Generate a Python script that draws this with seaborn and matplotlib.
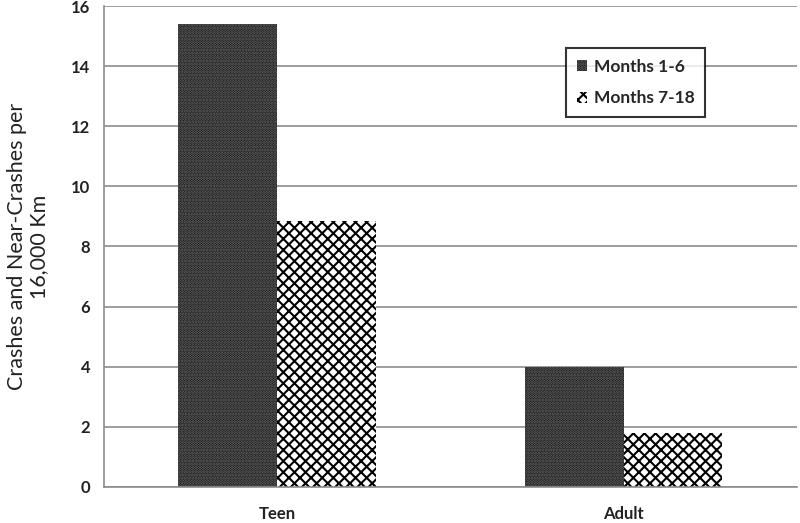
"""Crash rates by driver group and period, bar chart with hatched fills."""
import matplotlib.pyplot as plt
import matplotlib.patches as mpatches
import pandas as pd
import seaborn as sns

groups = ["Teen", "Adult"]
periods = ["Months 1-6", "Months 7-18"]
rates_early = [15.4, 4.0]
rates_late = [8.85, 1.8]

df = pd.DataFrame({
    "group": groups * 2,
    "period": [periods[0]] * 2 + [periods[1]] * 2,
    "rate": rates_early + rates_late,
})

sns.set_style("white")
plt.rcParams["font.family"] = ["Lato", "DejaVu Sans"]
plt.rcParams["hatch.linewidth"] = 1.5

fig = plt.figure(figsize=(8, 5.23), dpi=100)
ax = fig.add_axes([0.13, 0.069, 0.866, 0.9195])

sns.barplot(data=df, x="group", y="rate", hue="period", order=groups,
            hue_order=periods, width=0.57, ax=ax, legend=False)

styles = {
    periods[0]: dict(facecolor="#0a0a0a", edgecolor="#6e6e6e", hatch="......"),
    periods[1]: dict(facecolor="white", edgecolor="black", hatch="xxx"),
}
for cont, p in zip(ax.containers, periods):
    for bar in cont:
        bar.set_facecolor(styles[p]["facecolor"])
        bar.set_edgecolor(styles[p]["edgecolor"])
        bar.set_hatch(styles[p]["hatch"])
        bar.set_linewidth(0)

ax.set_ylim(0, 16)
ax.set_yticks(range(0, 17, 2))
ax.set_xlim(-0.5, 1.5)
ax.yaxis.grid(True, color="#8c8c8c", linewidth=1.2)
ax.set_axisbelow(True)

for side in ["top", "right"]:
    ax.spines[side].set_visible(False)
for side in ["left", "bottom"]:
    ax.spines[side].set_color("#8c8c8c")
    ax.spines[side].set_linewidth(1.2)

ax.set_xticks([-0.5, 0.5, 1.5], minor=True)
ax.tick_params(axis="x", which="minor", length=6, color="#8c8c8c", width=1.2)
ax.tick_params(axis="x", which="major", length=0, pad=14)
ax.tick_params(axis="y", length=6, color="#8c8c8c", width=1.2, pad=4)
for lbl in ax.get_xticklabels() + ax.get_yticklabels():
    lbl.set_fontweight("bold")
    lbl.set_fontsize(12)
    lbl.set_color("#222222")

ax.set_xlabel("")
ax.set_ylabel("Crashes and Near-Crashes per\n16,000 Km", fontsize=15.5,
              color="#222222", labelpad=16, linespacing=1.1)

handles = [mpatches.Patch(facecolor=styles[p]["facecolor"],
                          edgecolor=styles[p]["edgecolor"],
                          hatch=styles[p]["hatch"], linewidth=0, label=p)
           for p in periods]
leg = ax.legend(handles=handles, loc="upper left", bbox_to_anchor=(0.655, 0.93),
                frameon=True, fancybox=False, edgecolor="black",
                handlelength=0.6, handleheight=0.6, handletextpad=0.4,
                borderpad=0.6, labelspacing=0.9,
                prop={"weight": "bold", "size": 12.5})
leg.get_frame().set_linewidth(1.5)

fig.savefig("out.png", dpi=100)
